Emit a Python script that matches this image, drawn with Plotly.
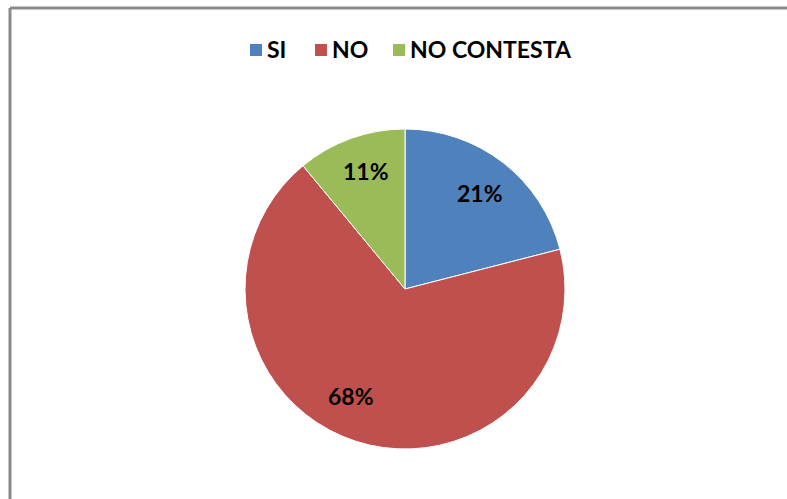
import math
import plotly.graph_objects as go

# Survey answers
labels = ["SI", "NO", "NO CONTESTA"]
values = [21, 68, 11]
colors = ["#4F81BD", "#C0504D", "#9BBB59"]

W, H = 787, 499
FONT = "Lato"


def px(x):
    return x / W


def py(y):
    return 1 - y / H


# Pie centre and radius in pixels
cx, cy, r = 405, 289, 160

fig = go.Figure(
    go.Pie(
        labels=labels,
        values=values,
        sort=False,
        direction="clockwise",
        rotation=0,
        marker=dict(colors=colors, line=dict(color="white", width=1)),
        textinfo="none",
        domain=dict(x=[px(cx - r), px(cx + r)], y=[py(cy + r), py(cy - r)]),
        showlegend=False,
        hoverinfo="label+percent",
    )
)

shapes = []
annotations = []

# Chart frame: only the top and left edges fall inside the page
frame = dict(color="#8a8a8a", width=3)
shapes.append(dict(type="line", xref="paper", yref="paper",
                   x0=px(10), x1=1, y0=py(8), y1=py(8), line=frame))
shapes.append(dict(type="line", xref="paper", yref="paper",
                   x0=px(10), x1=px(10), y0=py(8), y1=0, line=frame))

# Legend row across the top
legend_x = [250, 315, 393]
for lab, col, x0 in zip(labels, colors, legend_x):
    shapes.append(
        dict(
            type="rect", xref="paper", yref="paper",
            x0=px(x0), x1=px(x0 + 12), y0=py(56), y1=py(44),
            line=dict(width=0), fillcolor=col,
        )
    )
    annotations.append(
        dict(
            text=lab, xref="paper", yref="paper",
            x=px(x0 + 15), y=py(49), xanchor="left", yanchor="middle",
            showarrow=False,
            font=dict(family=FONT, size=23, color="black", weight="bold"),
        )
    )

# Percentage labels placed along each slice's mid-angle;
# radial fraction and extra angle (degrees) per slice
label_radius = [0.76, 0.75, 0.78]
label_turn = [0, 9, 1.5]
total = sum(values)
cum = 0
for v, rho, turn in zip(values, label_radius, label_turn):
    theta = math.radians(360 * (cum + v / 2) / total + turn)
    cum += v
    lx = cx + rho * r * math.sin(theta)
    ly = cy - rho * r * math.cos(theta)
    annotations.append(
        dict(
            text=f"{round(100 * v / total)}%", xref="paper", yref="paper",
            x=px(lx), y=py(ly), xanchor="center", yanchor="middle",
            showarrow=False,
            font=dict(family=FONT, size=23, color="black", weight="bold"),
        )
    )

# Caption running off the top edge
annotations.append(
    dict(
        text="Gráfico No. 13", xref="paper", yref="paper",
        x=px(770), y=py(4), xanchor="right", yanchor="bottom",
        showarrow=False,
        font=dict(family=FONT, size=20, color="#404040", weight="bold"),
    )
)

fig.update_layout(
    width=W,
    height=H,
    margin=dict(l=0, r=0, t=0, b=0),
    paper_bgcolor="white",
    plot_bgcolor="white",
    shapes=shapes,
    annotations=annotations,
)

fig.write_html("out.html")
